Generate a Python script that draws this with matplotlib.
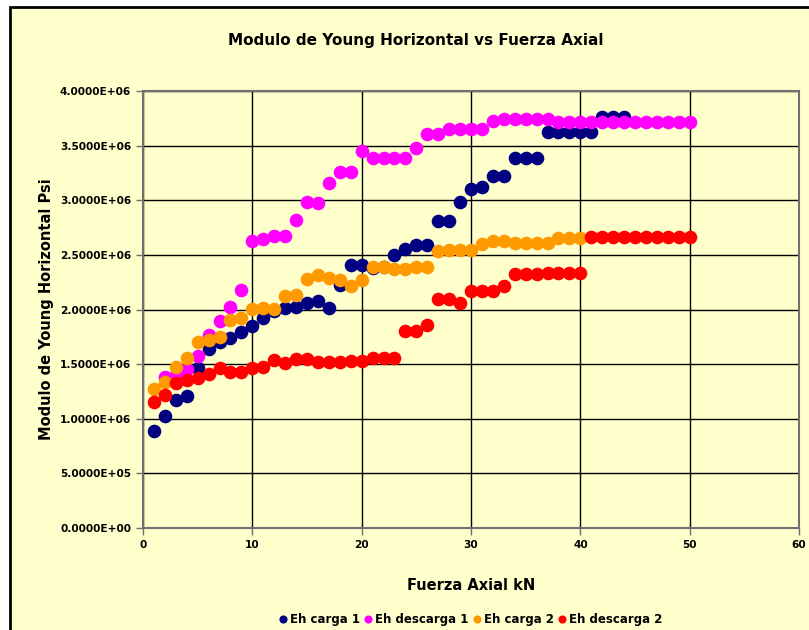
import numpy as np
import matplotlib
matplotlib.use("Agg")
import matplotlib.pyplot as plt
from matplotlib.patches import Rectangle
from matplotlib.ticker import FuncFormatter

# Fuerza axial (kN) y modulo de Young horizontal (psi) por ensayo
fuerza_c1 = list(range(1, 45))
eh_carga_1 = [0.888, 1.025, 1.172, 1.208, 1.465, 1.638, 1.703, 1.739, 1.794, 1.849,
              1.922, 1.986, 2.014, 2.023, 2.059, 2.078, 2.014, 2.224, 2.407, 2.407,
              2.380, 2.390, 2.499, 2.554, 2.590, 2.590, 2.810, 2.810, 2.984, 3.103,
              3.121, 3.222, 3.222, 3.387, 3.387, 3.387, 3.625, 3.625, 3.625, 3.625,
              3.625, 3.762, 3.762, 3.762]

fuerza_d1 = list(range(2, 51))
eh_descarga_1 = [1.380, 1.400, 1.455, 1.574, 1.767, 1.895, 2.023, 2.178, 2.627,
                 2.645, 2.673, 2.673, 2.819, 2.984, 2.975, 3.158, 3.259, 3.259, 3.451,
                 3.387, 3.387, 3.387, 3.387, 3.478, 3.606, 3.606, 3.652, 3.652, 3.652,
                 3.652, 3.725, 3.744, 3.744, 3.744, 3.744, 3.744, 3.716, 3.716, 3.716,
                 3.716, 3.716, 3.716, 3.716, 3.716, 3.716, 3.716, 3.716, 3.716, 3.716]

fuerza_c2 = list(range(1, 41))
eh_carga_2 = [1.272, 1.336, 1.474, 1.556, 1.703, 1.721, 1.748, 1.904, 1.922, 2.005,
              2.014, 2.005, 2.124, 2.133, 2.279, 2.316, 2.288, 2.270, 2.215, 2.270,
              2.389, 2.389, 2.371, 2.371, 2.389, 2.389, 2.535, 2.545, 2.545, 2.545,
              2.600, 2.627, 2.627, 2.609, 2.609, 2.609, 2.609, 2.654, 2.654, 2.654]

fuerza_d2 = list(range(1, 51))
eh_descarga_2 = [1.153, 1.217, 1.327, 1.355, 1.373, 1.410, 1.465, 1.428, 1.428, 1.465,
                 1.474, 1.538, 1.510, 1.547, 1.547, 1.519, 1.519, 1.519, 1.529, 1.529,
                 1.556, 1.556, 1.556, 1.803, 1.803, 1.858, 2.096, 2.096, 2.059, 2.169,
                 2.169, 2.169, 2.215, 2.325, 2.325, 2.325, 2.334, 2.334, 2.334, 2.334,
                 2.664, 2.664, 2.664, 2.664, 2.664, 2.664, 2.664, 2.664, 2.664, 2.664]

series = [
    (fuerza_c1, eh_carga_1, "Eh carga 1", "#000080"),
    (fuerza_d1, eh_descarga_1, "Eh descarga 1", "#FF00FF"),
    (fuerza_c2, eh_carga_2, "Eh carga 2", "#FF9900"),
    (fuerza_d2, eh_descarga_2, "Eh descarga 2", "#FF0000"),
]

bg = "#FFFFCC"
W, H = 809, 630

fig = plt.figure(figsize=(W / 100, H / 100), dpi=100, facecolor="white")
fig.patches.append(Rectangle((10 / W, -0.1), 1.2, 1.1 - 7 / H, transform=fig.transFigure,
                             facecolor=bg, edgecolor="black", linewidth=2.0, zorder=-10))

ax = fig.add_axes([143 / W, 1 - 528 / H, (799 - 143) / W, (528 - 91) / H])
ax.set_facecolor(bg)

for x, y, name, color in series:
    ax.plot(x, np.array(y) * 1e6, linestyle="none", marker="o", markersize=8.8,
            markerfacecolor=color, markeredgecolor=color, label=name, zorder=3)

ax.set_xlim(0, 60)
ax.set_ylim(0, 4.0e6)
ax.set_xticks(np.arange(0, 61, 10))
ax.set_yticks(np.arange(0, 4.01e6, 0.5e6))
ax.yaxis.set_major_formatter(FuncFormatter(lambda v, p: "%.4E" % v))
ax.grid(True, color="black", linewidth=1.0, zorder=1)
ax.set_axisbelow(True)
for s in ax.spines.values():
    s.set_color("#707070")
    s.set_linewidth(1.5)
ax.tick_params(axis="both", direction="out", length=5, width=1, color="#707070",
               labelsize=7.6)
for lab in ax.get_xticklabels() + ax.get_yticklabels():
    lab.set_fontweight("bold")

fig.text(416 / W, 1 - 40 / H, "Modulo de Young Horizontal vs Fuerza Axial",
         ha="center", va="center", fontsize=11, fontweight="bold")
ax.set_xlabel("Fuerza Axial kN", fontsize=10.5, fontweight="bold", labelpad=20)
ax.set_ylabel("Modulo de Young Horizontal Psi", fontsize=10.5, fontweight="bold",
              labelpad=4)

fig.legend(loc="center", bbox_to_anchor=(471 / W, 1 - 620 / H), ncol=4, frameon=False,
           markerscale=0.55, handlelength=0.6, handletextpad=0.3,
           columnspacing=0.4, prop={"weight": "bold", "size": 8.5})

fig.savefig("out.png", dpi=100, facecolor="white")
